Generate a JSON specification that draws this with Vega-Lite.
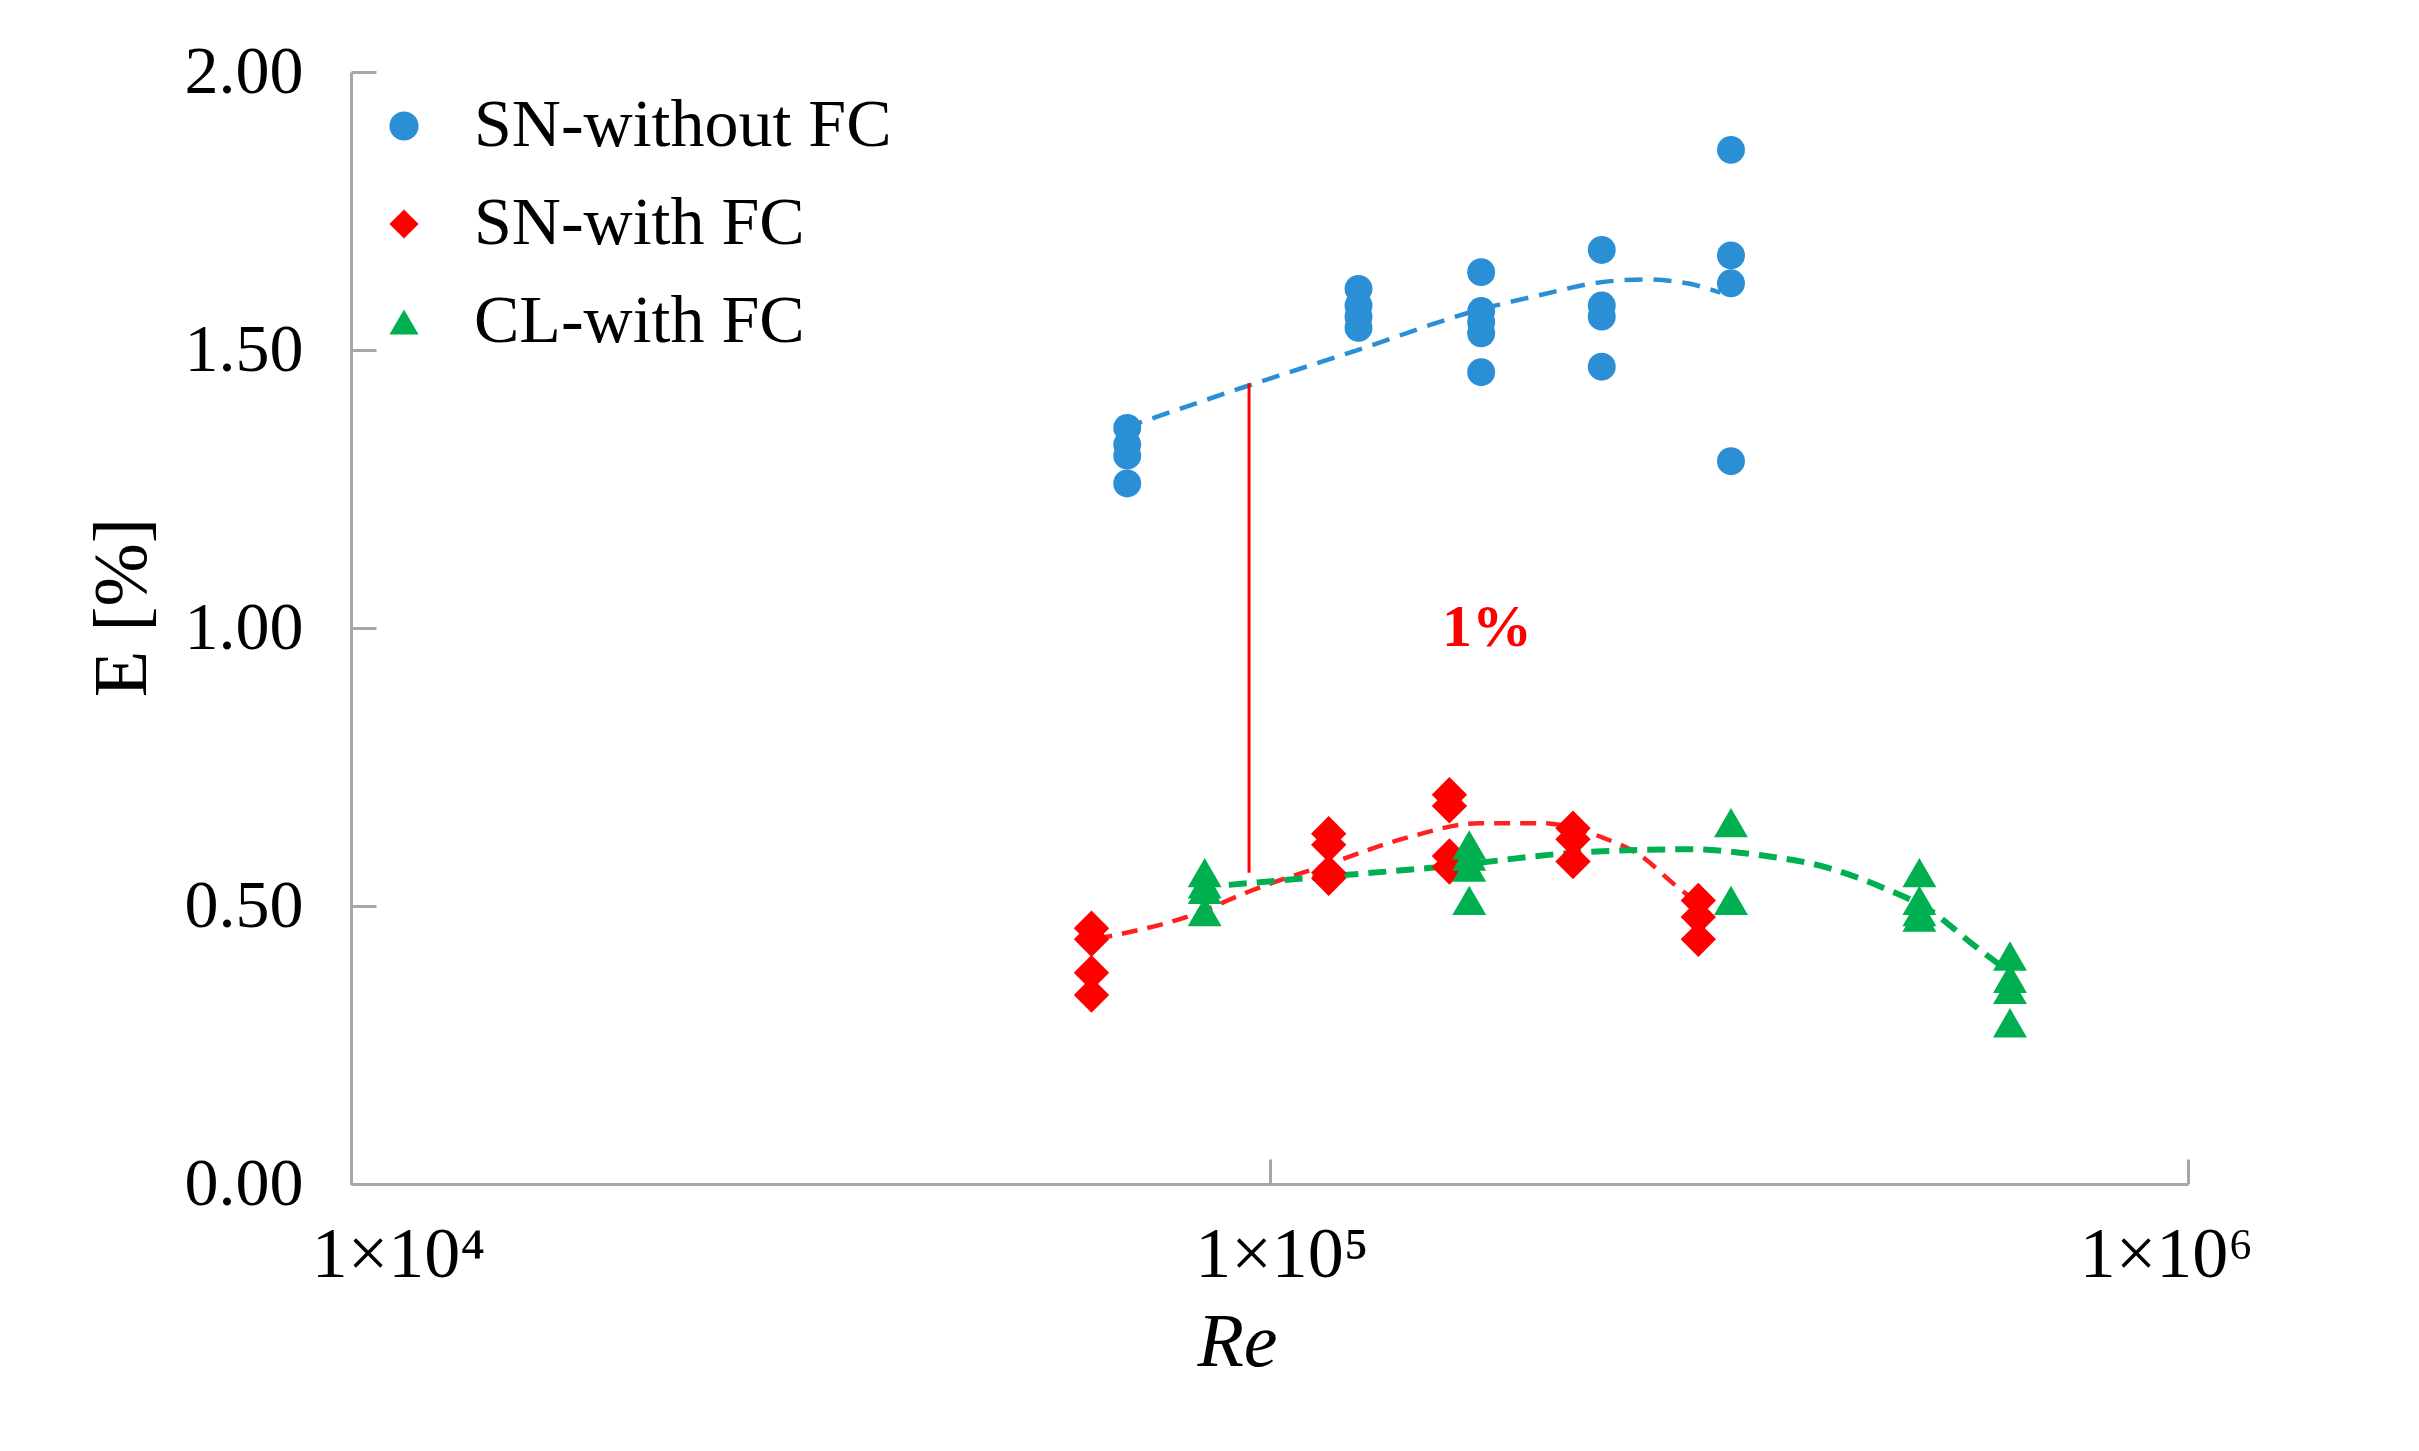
{
  "$schema": "https://vega.github.io/schema/vega-lite/v6.json",
  "width": 1837,
  "height": 1112,
  "autosize": {"type": "none"},
  "padding": {"left": 351, "top": 72, "right": 231, "bottom": 267},
  "background": "#ffffff",
  "view": {"stroke": null},
  "config": {
    "font": "Liberation Serif",
    "axis": {
      "labelFont": "Liberation Serif",
      "titleFont": "Liberation Serif",
      "labelColor": "#000000",
      "titleColor": "#000000",
      "domainColor": "#a6a6a6",
      "domainWidth": 3,
      "tickColor": "#a6a6a6",
      "tickWidth": 3,
      "tickSize": -25,
      "grid": false
    },
    "legend": {
      "labelFont": "Liberation Serif",
      "labelFontSize": 68,
      "labelColor": "#000000",
      "symbolSize": 850,
      "symbolStrokeWidth": 0,
      "labelOffset": 36,
      "rowPadding": 30,
      "labelLimit": 800
    }
  },
  "datasets": {
    "points": [
      {"series": "SN-without FC", "Re": 70000, "E": 1.36},
      {"series": "SN-without FC", "Re": 70000, "E": 1.33},
      {"series": "SN-without FC", "Re": 70000, "E": 1.31},
      {"series": "SN-without FC", "Re": 70000, "E": 1.26},
      {"series": "SN-without FC", "Re": 125000, "E": 1.61},
      {"series": "SN-without FC", "Re": 125000, "E": 1.58},
      {"series": "SN-without FC", "Re": 125000, "E": 1.56},
      {"series": "SN-without FC", "Re": 125000, "E": 1.54},
      {"series": "SN-without FC", "Re": 170000, "E": 1.64},
      {"series": "SN-without FC", "Re": 170000, "E": 1.57},
      {"series": "SN-without FC", "Re": 170000, "E": 1.55},
      {"series": "SN-without FC", "Re": 170000, "E": 1.53},
      {"series": "SN-without FC", "Re": 170000, "E": 1.46},
      {"series": "SN-without FC", "Re": 230000, "E": 1.68},
      {"series": "SN-without FC", "Re": 230000, "E": 1.58},
      {"series": "SN-without FC", "Re": 230000, "E": 1.56},
      {"series": "SN-without FC", "Re": 230000, "E": 1.47},
      {"series": "SN-without FC", "Re": 318000, "E": 1.86},
      {"series": "SN-without FC", "Re": 318000, "E": 1.67},
      {"series": "SN-without FC", "Re": 318000, "E": 1.62},
      {"series": "SN-without FC", "Re": 318000, "E": 1.3},
      {"series": "SN-with FC", "Re": 64000, "E": 0.46},
      {"series": "SN-with FC", "Re": 64000, "E": 0.44},
      {"series": "SN-with FC", "Re": 64000, "E": 0.38},
      {"series": "SN-with FC", "Re": 64000, "E": 0.34},
      {"series": "SN-with FC", "Re": 116000, "E": 0.63},
      {"series": "SN-with FC", "Re": 116000, "E": 0.61},
      {"series": "SN-with FC", "Re": 116000, "E": 0.56},
      {"series": "SN-with FC", "Re": 116000, "E": 0.55},
      {"series": "SN-with FC", "Re": 157000, "E": 0.7},
      {"series": "SN-with FC", "Re": 157000, "E": 0.68},
      {"series": "SN-with FC", "Re": 157000, "E": 0.59},
      {"series": "SN-with FC", "Re": 157000, "E": 0.57},
      {"series": "SN-with FC", "Re": 214000, "E": 0.64},
      {"series": "SN-with FC", "Re": 214000, "E": 0.62},
      {"series": "SN-with FC", "Re": 214000, "E": 0.58},
      {"series": "SN-with FC", "Re": 293000, "E": 0.51},
      {"series": "SN-with FC", "Re": 293000, "E": 0.48},
      {"series": "SN-with FC", "Re": 293000, "E": 0.44},
      {"series": "CL-with FC", "Re": 85000, "E": 0.56},
      {"series": "CL-with FC", "Re": 85000, "E": 0.54},
      {"series": "CL-with FC", "Re": 85000, "E": 0.53},
      {"series": "CL-with FC", "Re": 85000, "E": 0.49},
      {"series": "CL-with FC", "Re": 165000, "E": 0.61},
      {"series": "CL-with FC", "Re": 165000, "E": 0.59},
      {"series": "CL-with FC", "Re": 165000, "E": 0.57},
      {"series": "CL-with FC", "Re": 165000, "E": 0.51},
      {"series": "CL-with FC", "Re": 318000, "E": 0.65},
      {"series": "CL-with FC", "Re": 318000, "E": 0.51},
      {"series": "CL-with FC", "Re": 510000, "E": 0.56},
      {"series": "CL-with FC", "Re": 510000, "E": 0.51},
      {"series": "CL-with FC", "Re": 510000, "E": 0.49},
      {"series": "CL-with FC", "Re": 510000, "E": 0.48},
      {"series": "CL-with FC", "Re": 640000, "E": 0.41},
      {"series": "CL-with FC", "Re": 640000, "E": 0.37},
      {"series": "CL-with FC", "Re": 640000, "E": 0.35},
      {"series": "CL-with FC", "Re": 640000, "E": 0.29}
    ],
    "trends": [
      {"series": "SN-without FC", "Re": 69600, "E": 1.36},
      {"series": "SN-without FC", "Re": 93700, "E": 1.433},
      {"series": "SN-without FC", "Re": 124200, "E": 1.499},
      {"series": "SN-without FC", "Re": 169700, "E": 1.573},
      {"series": "SN-without FC", "Re": 197200, "E": 1.599},
      {"series": "SN-without FC", "Re": 227500, "E": 1.621},
      {"series": "SN-without FC", "Re": 256400, "E": 1.627},
      {"series": "SN-without FC", "Re": 285000, "E": 1.62},
      {"series": "SN-without FC", "Re": 309700, "E": 1.603},
      {"series": "SN-with FC", "Re": 64800, "E": 0.441},
      {"series": "SN-with FC", "Re": 82800, "E": 0.485},
      {"series": "SN-with FC", "Re": 95300, "E": 0.527},
      {"series": "SN-with FC", "Re": 115300, "E": 0.574},
      {"series": "SN-with FC", "Re": 141900, "E": 0.624},
      {"series": "SN-with FC", "Re": 169000, "E": 0.649},
      {"series": "SN-with FC", "Re": 197700, "E": 0.649},
      {"series": "SN-with FC", "Re": 231400, "E": 0.622},
      {"series": "SN-with FC", "Re": 252800, "E": 0.592},
      {"series": "SN-with FC", "Re": 276300, "E": 0.538},
      {"series": "SN-with FC", "Re": 286000, "E": 0.518},
      {"series": "CL-with FC", "Re": 90300, "E": 0.538},
      {"series": "CL-with FC", "Re": 115300, "E": 0.553},
      {"series": "CL-with FC", "Re": 155300, "E": 0.571},
      {"series": "CL-with FC", "Re": 215900, "E": 0.596},
      {"series": "CL-with FC", "Re": 285800, "E": 0.602},
      {"series": "CL-with FC", "Re": 340000, "E": 0.592},
      {"series": "CL-with FC", "Re": 404900, "E": 0.569},
      {"series": "CL-with FC", "Re": 465400, "E": 0.533},
      {"series": "CL-with FC", "Re": 525000, "E": 0.491},
      {"series": "CL-with FC", "Re": 583000, "E": 0.431},
      {"series": "CL-with FC", "Re": 636800, "E": 0.383}
    ],
    "gap": [
      {"Re": 95000, "lo": 0.56, "hi": 1.44, "label": "1%", "labelRe": 172500, "labelE": 1.0}
    ]
  },
  "encoding": {
    "x": {
      "field": "Re",
      "type": "quantitative",
      "scale": {"type": "log", "domain": [10000, 1000000], "nice": false},
      "axis": {
        "values": [10000, 100000, 1000000],
        "labelExpr": "datum.value == 10000 ? '1×10⁴' : datum.value == 100000 ? '1×10⁵' : '1×10⁶'",
        "labelFontSize": 72,
        "labelPadding": 60,
        "labelFlush": false,
        "labelOffset": {"condition": [{"test": "datum.value == 10000", "value": 47}, {"test": "datum.value == 100000", "value": 12}], "value": -22},
        "title": "Re",
        "titleFontSize": 76,
        "titleFontStyle": "italic",
        "titleFontWeight": "normal",
        "titleBaseline": "middle",
        "titleX": 886,
        "titleY": 158
      }
    },
    "y": {
      "field": "E",
      "type": "quantitative",
      "scale": {"domain": [0, 2], "nice": false},
      "axis": {
        "values": [0, 0.5, 1, 1.5, 2],
        "format": ".2f",
        "labelFontSize": 68,
        "labelPadding": 73,
        "title": "E [%]",
        "titleFontSize": 76,
        "titleFontWeight": "normal",
        "titleBaseline": "middle",
        "titleAngle": -90,
        "titleX": -229,
        "titleY": 535
      }
    }
  },
  "layer": [
    {
      "data": {"name": "trends"},
      "transform": [{"filter": "datum.series == 'SN-without FC'"}],
      "mark": {"type": "line", "interpolate": "monotone", "strokeDash": [18, 11], "color": "#2B8FD6", "strokeWidth": 4.5},
      "encoding": {}
    },
    {
      "data": {"name": "trends"},
      "transform": [{"filter": "datum.series == 'SN-with FC'"}],
      "mark": {"type": "line", "interpolate": "monotone", "strokeDash": [16, 10], "color": "#FF2020", "strokeWidth": 4.5},
      "encoding": {}
    },
    {
      "data": {"name": "trends"},
      "transform": [{"filter": "datum.series == 'CL-with FC'"}],
      "mark": {"type": "line", "interpolate": "monotone", "strokeDash": [18, 10], "color": "#00B050", "strokeWidth": 6},
      "encoding": {}
    },
    {
      "data": {"name": "gap"},
      "mark": {"type": "rule", "color": "#FF0000", "strokeWidth": 3},
      "encoding": {
        "y": {"field": "lo", "type": "quantitative"},
        "y2": {"field": "hi"}
      }
    },
    {
      "data": {"name": "gap"},
      "mark": {"type": "text", "color": "#FF0000", "fontSize": 60, "fontWeight": "bold", "font": "Liberation Serif", "baseline": "middle", "align": "center"},
      "encoding": {
        "x": {"field": "labelRe", "type": "quantitative"},
        "y": {"field": "labelE", "type": "quantitative"},
        "text": {"field": "label"}
      }
    },
    {
      "data": {"name": "points"},
      "transform": [{"filter": "datum.series == 'SN-without FC'"}],
      "mark": {"type": "point", "filled": true, "opacity": 1, "size": 780, "strokeWidth": 0},
      "encoding": {
        "color": {
          "field": "series",
          "type": "nominal",
          "scale": {"domain": ["SN-without FC", "SN-with FC", "CL-with FC"], "range": ["#2B8FD6", "#FF0000", "#00B050"]},
          "legend": {"title": null, "orient": "none", "legendX": 19, "legendY": 20}
        },
        "shape": {
          "field": "series",
          "type": "nominal",
          "scale": {"domain": ["SN-without FC", "SN-with FC", "CL-with FC"], "range": ["circle", "diamond", "triangle-up"]},
          "legend": {"title": null, "orient": "none", "legendX": 19, "legendY": 20}
        }
      }
    },
    {
      "data": {"name": "points"},
      "transform": [{"filter": "datum.series == 'SN-with FC'"}],
      "mark": {"type": "point", "filled": true, "opacity": 1, "size": 1250, "strokeWidth": 0},
      "encoding": {
        "color": {"field": "series", "type": "nominal"},
        "shape": {"field": "series", "type": "nominal"}
      }
    },
    {
      "data": {"name": "points"},
      "transform": [{"filter": "datum.series == 'CL-with FC'"}],
      "mark": {"type": "point", "filled": true, "opacity": 1, "size": 1150, "strokeWidth": 0},
      "encoding": {
        "color": {"field": "series", "type": "nominal"},
        "shape": {"field": "series", "type": "nominal"}
      }
    }
  ]
}
